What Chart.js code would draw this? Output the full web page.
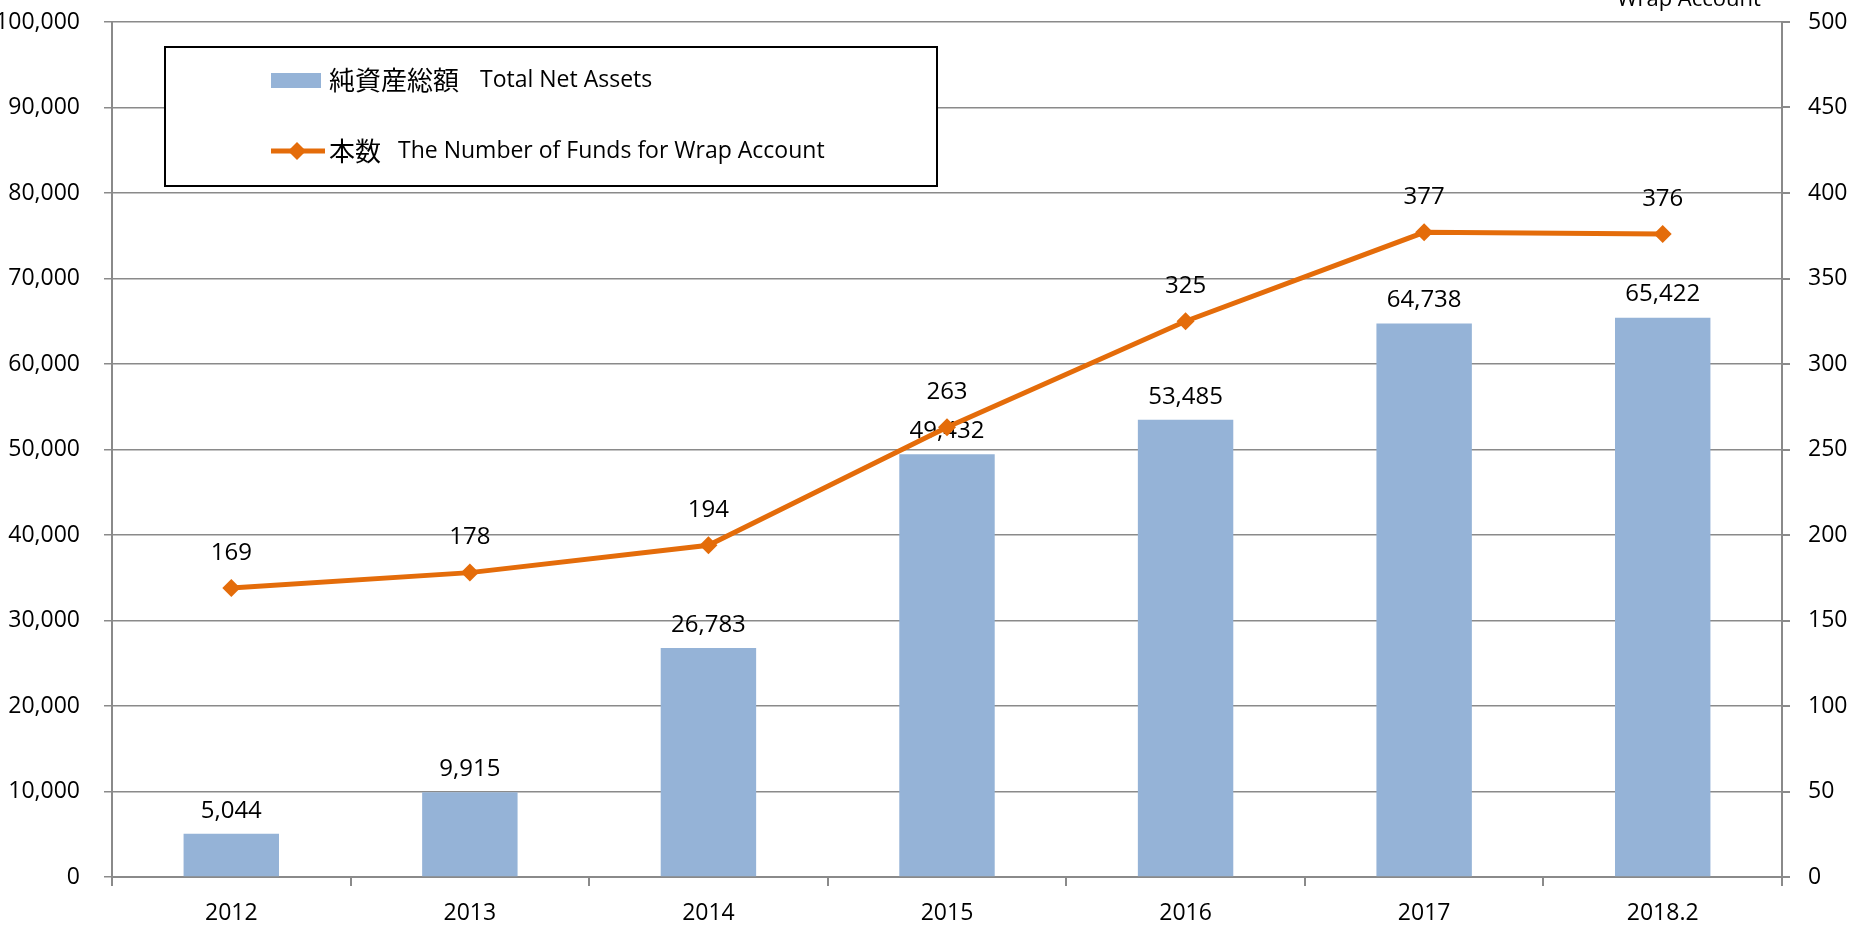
<!DOCTYPE html>
<html>
<head>
<meta charset="utf-8">
<script src="https://cdn.jsdelivr.net/npm/chart.js@4"></script>
<style>
  html, body { margin: 0; padding: 0; background: #fff; }
  #wrap { width: 1867px; height: 930px; }
</style>
</head>
<body>
<div id="wrap"><canvas id="chart" width="1867" height="930"></canvas></div>
<script>
const years = ['2012', '2013', '2014', '2015', '2016', '2017', '2018.2'];
const netAssets = [5044, 9915, 26783, 49432, 53485, 64738, 65422];
const fundCount = [169, 178, 194, 263, 325, 377, 376];
const assetsLabel = ['純資産総額', 'Total Net Assets'];
const fundsLabel = ['本数', 'The Number of Funds for Wrap Account'];

const FONT = '"Open Sans", "Noto Sans CJK JP", sans-serif';
const CJK = '"Noto Sans CJK JP", sans-serif';
const barColor = '#95b3d7';
const lineColor = '#e46c0a';
const gridColor = '#8a8a8a';

// value labels above bars / points
const valueLabels = {
    id: 'valueLabels',
    afterDatasetDraw(chart, args) {
        if (args.index !== 0) return;
        const ctx = chart.ctx;
        ctx.save();
        ctx.font = '24px ' + FONT;
        ctx.fillStyle = '#000';
        ctx.textAlign = 'center';
        ctx.textBaseline = 'middle';
        args.meta.data.forEach((el, i) => {
            ctx.fillText(netAssets[i].toLocaleString('en-US'), el.x, el.y - 23);
        });
        ctx.restore();
    },
    afterDatasetsDraw(chart) {
        const ctx = chart.ctx;
        const meta = chart.getDatasetMeta(1);
        ctx.save();
        ctx.font = '24px ' + FONT;
        ctx.fillStyle = '#000';
        ctx.textAlign = 'center';
        ctx.textBaseline = 'middle';
        meta.data.forEach((el, i) => {
            ctx.fillText(String(fundCount[i]), el.x, el.y - 35);
        });
        ctx.restore();
    }
};

// boxed legend inside the plot + clipped right axis title
const boxLegend = {
    id: 'boxLegend',
    afterDraw(chart) {
        const ctx = chart.ctx;
        ctx.save();
        ctx.fillStyle = '#fff';
        ctx.fillRect(165, 47, 772, 139);
        ctx.strokeStyle = '#000';
        ctx.lineWidth = 2;
        ctx.strokeRect(165, 47, 772, 139);

        ctx.fillStyle = barColor;
        ctx.fillRect(271, 73, 50, 15);

        ctx.strokeStyle = lineColor;
        ctx.lineWidth = 5;
        ctx.beginPath();
        ctx.moveTo(271, 151);
        ctx.lineTo(325, 151);
        ctx.stroke();
        ctx.fillStyle = lineColor;
        ctx.beginPath();
        ctx.moveTo(297, 142);
        ctx.lineTo(306, 151);
        ctx.lineTo(297, 160);
        ctx.lineTo(288, 151);
        ctx.closePath();
        ctx.fill();

        ctx.fillStyle = '#000';
        ctx.textAlign = 'left';
        ctx.textBaseline = 'middle';
        ctx.font = '26px ' + CJK;
        ctx.fillText(assetsLabel[0], 329, 80);
        ctx.fillText(fundsLabel[0], 329, 151);
        ctx.font = '23px ' + FONT;
        ctx.fillText(assetsLabel[1], 480, 80);
        ctx.fillText(fundsLabel[1], 398, 151);

        ctx.font = '22px ' + FONT;
        ctx.textAlign = 'center';
        ctx.textBaseline = 'alphabetic';
        ctx.fillText('Wrap Account', 1689, 6);
        ctx.restore();
    }
};

function noPad(scale) {
    scale.paddingTop = 0;
    scale.paddingBottom = 0;
    scale.paddingLeft = 0;
    scale.paddingRight = 0;
}

new Chart(document.getElementById('chart').getContext('2d'), {
    data: {
        labels: years,
        datasets: [{
            type: 'bar',
            label: assetsLabel.join('  '),
            data: netAssets,
            backgroundColor: barColor,
            barPercentage: 0.4,
            categoryPercentage: 1,
            yAxisID: 'y',
            order: 1
        }, {
            type: 'line',
            label: fundsLabel.join('  '),
            data: fundCount,
            borderColor: lineColor,
            backgroundColor: lineColor,
            borderWidth: 5,
            pointStyle: 'rectRot',
            pointRadius: 9,
            pointBorderWidth: 0,
            tension: 0,
            yAxisID: 'y2',
            order: 0
        }]
    },
    options: {
        responsive: false,
        devicePixelRatio: 1,
        animation: false,
        events: [],
        layout: { padding: { top: 22, left: 0, right: 0, bottom: 0 } },
        plugins: {
            legend: { display: false },
            tooltip: { enabled: false }
        },
        scales: {
            x: {
                offset: true,
                grid: { offset: true, drawOnChartArea: false, drawTicks: true, tickLength: 9, color: gridColor, lineWidth: 2 },
                border: { color: gridColor, width: 2 },
                ticks: { color: '#000', font: { family: FONT, size: 23 }, padding: 14, maxRotation: 0 },
                afterFit(scale) { scale.height = 53; noPad(scale); }
            },
            y: {
                position: 'left',
                min: 0,
                max: 100000,
                grid: { color: gridColor, lineWidth: 1.5, tickLength: 8 },
                border: { color: gridColor, width: 2 },
                ticks: {
                    stepSize: 10000,
                    color: '#000',
                    font: { family: FONT, size: 23 },
                    padding: 24,
                    callback: (v) => v.toLocaleString('en-US')
                },
                afterFit(scale) { scale.width = 112; noPad(scale); }
            },
            y2: {
                position: 'right',
                min: 0,
                max: 500,
                grid: { drawOnChartArea: false, color: gridColor, lineWidth: 2, tickLength: 8 },
                border: { color: gridColor, width: 2 },
                ticks: {
                    stepSize: 50,
                    color: '#000',
                    font: { family: FONT, size: 23 },
                    padding: 18
                },
                afterFit(scale) { scale.width = 85; noPad(scale); }
            }
        }
    },
    plugins: [valueLabels, boxLegend]
});
</script>
</body>
</html>
